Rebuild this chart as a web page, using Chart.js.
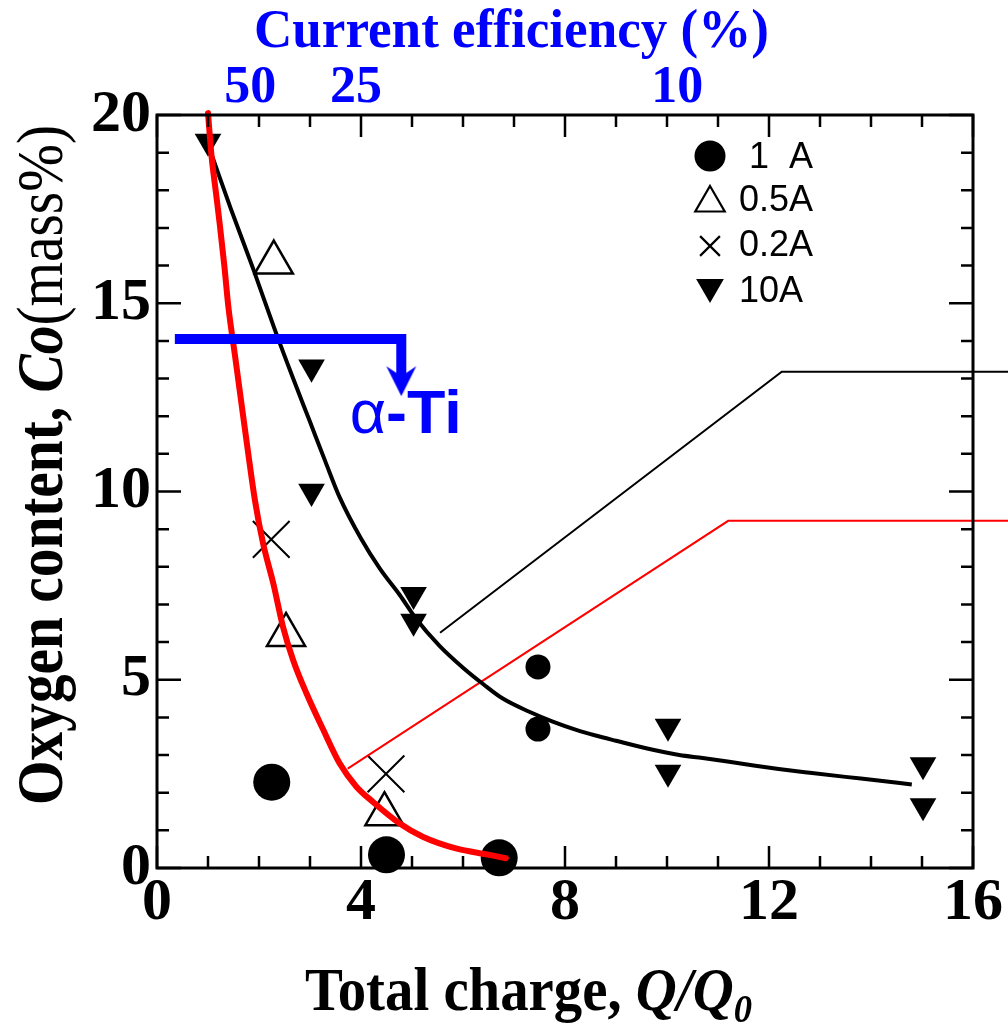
<!DOCTYPE html>
<html><head><meta charset="utf-8">
<script src="https://cdn.jsdelivr.net/npm/chart.js@4.4.1/dist/chart.umd.min.js"></script>
<style>html,body{margin:0;padding:0;background:#fff;overflow:hidden}#wrap{position:relative;width:1008px;height:1024px}</style>
</head><body><div id="wrap"><canvas id="c" width="1008" height="1024"></canvas></div>
<script>
// ---------- data ----------
const xTickValues = [0, 4, 8, 12, 16];
const yTickValues = [0, 5, 10, 15, 20];
const effLabels = ['50', '25', '10'];          // current efficiency (%) labels on top axis
const effPositions = [1.83, 3.9, 10.2];        // Q/Q0 where these labels sit

const s1A_x = [2.25, 4.5, 6.71, 7.47, 7.47];
const s1A_y = [2.28, 0.35, 0.27, 5.34, 3.69];

const s05A_x = [2.29, 2.53, 4.46];
const s05A_y = [16.08, 6.19, 1.43];

const s02A_x = [2.24, 4.49];
const s02A_y = [8.73, 2.5];

const s10A_x = [1.0, 3.03, 3.03, 5.03, 5.03, 10.02, 10.02, 15.02, 15.02];
const s10A_y = [19.3, 13.3, 10.0, 7.26, 6.55, 3.76, 2.54, 2.74, 1.65];

const blackFit_x = [1.04, 1.45, 1.89, 2.31, 2.67, 3.0, 3.3, 3.58, 4.0, 4.37, 4.76, 5.08, 5.54, 6.0, 6.4, 6.78, 7.3, 7.76, 8.22, 8.6, 9.0, 9.59, 10.24, 10.7, 11.22, 11.7, 12.19, 12.8, 13.5, 14.1, 14.8];
const blackFit_y = [19.07, 17.5, 15.9, 14.3, 13.0, 11.85, 10.8, 9.85, 8.75, 7.95, 7.25, 6.62, 5.9, 5.32, 4.88, 4.5, 4.15, 3.89, 3.67, 3.52, 3.38, 3.18, 3.0, 2.92, 2.82, 2.72, 2.63, 2.53, 2.42, 2.33, 2.22];

const redFit_x = [1.0, 1.07, 1.15, 1.23, 1.32, 1.4, 1.53, 1.62, 1.78, 1.92, 2.08, 2.28, 2.47, 2.67, 2.93, 3.26, 3.58, 3.91, 4.23, 4.76, 5.21, 5.86, 6.52, 6.84];
const redFit_y = [20.05, 18.9, 18.0, 17.1, 16.0, 14.9, 13.6, 12.7, 11.1, 9.77, 8.62, 7.56, 6.41, 5.52, 4.64, 3.67, 2.78, 2.16, 1.76, 1.18, 0.83, 0.52, 0.35, 0.26];

// leader lines and alpha-Ti marker
const blackLeader_x = [5.55, 12.25, 16.7];
const blackLeader_y = [6.25, 13.18, 13.18];
const redLeader_x = [3.74, 11.2, 16.7];
const redLeader_y = [2.64, 9.22, 9.22];
const alphaLine_x = [0.35, 4.79, 4.79];
const alphaLine_y = [14.05, 14.05, 13.0];
const alphaArrow_x = [4.79];
const alphaArrow_y = [12.93];
const alphaLabelPos = {x: 3.78, y: 11.55};

const legendLabels = [' 1  A', '0.5A', '0.2A', '10A'];

// ---------- helpers ----------
const SERIF = '"Liberation Serif","Times New Roman",serif';
const SANS = '"Liberation Sans",Arial,sans-serif';
const BLUE = '#0000ff';
const RED = '#ff0000';
function pts(xs, ys) { return xs.map((x, i) => ({x: x, y: ys[i]})); }

const arrowImg = document.createElement('canvas');
arrowImg.width = 32; arrowImg.height = 32;
(function () {
  const a = arrowImg.getContext('2d');
  a.fillStyle = BLUE;
  a.beginPath();
  a.moveTo(1, 1); a.lineTo(16, 11); a.lineTo(31, 1); a.lineTo(16, 31); a.closePath();
  a.fill();
})();

function drawRuns(ctx, runs, x, y, targetW, rot) {
  let total = 0;
  runs.forEach(r => { ctx.font = r.font; r.w = ctx.measureText(r.text).width; total += r.w; });
  const sx = targetW ? targetW / total : 1;
  ctx.save();
  ctx.translate(x, y);
  if (rot) ctx.rotate(rot);
  ctx.scale(sx, 1);
  ctx.textBaseline = 'alphabetic';
  ctx.textAlign = 'left';
  let cx = 0;
  runs.forEach(r => {
    ctx.font = r.font;
    ctx.fillStyle = r.color || '#000';
    ctx.fillText(r.text, cx, r.dy || 0);
    cx += r.w;
  });
  ctx.restore();
}

const decorPlugin = {
  id: 'decor',
  afterDatasetsDraw(chart) {
    const ctx = chart.ctx;
    const a = chart.chartArea;
    const xs = chart.scales.x, ys = chart.scales.y;
    ctx.save();
    // inward ticks
    ctx.strokeStyle = '#000';
    ctx.lineWidth = 2.5;
    ctx.beginPath();
    for (let v = 0; v <= 16; v++) {
      const px = xs.getPixelForValue(v);
      const len = (v % 4 === 0) ? 22 : 12;
      ctx.moveTo(px, a.bottom); ctx.lineTo(px, a.bottom - len);
      ctx.moveTo(px, a.top); ctx.lineTo(px, a.top + len);
    }
    for (let v = 0; v <= 20; v++) {
      const py = ys.getPixelForValue(v);
      const len = (v % 5 === 0) ? 24 : 12;
      ctx.moveTo(a.left, py); ctx.lineTo(a.left + len, py);
      ctx.moveTo(a.right, py); ctx.lineTo(a.right - len, py);
    }
    ctx.stroke();
    // frame
    ctx.lineWidth = 3;
    ctx.strokeRect(a.left, a.top, a.right - a.left, a.bottom - a.top);

    // legend
    const H = Chart.helpers;
    const lx = 710, tx = 739;
    const rows = [
      {y: 156, style: 'circle', r: 15.5, rot: 0, fill: '#000', bw: 0},
      {y: 203, style: 'triangle', r: 17, rot: 0, fill: 'rgba(0,0,0,0)', bw: 2.2},
      {y: 246, style: 'crossRot', r: 14, rot: 0, fill: 'rgba(0,0,0,0)', bw: 2.2},
      {y: 287, style: 'triangle', r: 16, rot: 180, fill: '#000', bw: 0}
    ];
    const textY = [157, 200, 245, 291];
    rows.forEach((rw, i) => {
      ctx.fillStyle = rw.fill; ctx.strokeStyle = '#000'; ctx.lineWidth = rw.bw || 1;
      H.drawPoint(ctx, {pointStyle: rw.style, radius: rw.r, rotation: rw.rot, borderWidth: rw.bw}, lx, rw.y);
      ctx.fillStyle = '#000';
      ctx.font = '36px ' + SANS;
      ctx.textBaseline = 'middle';
      ctx.textAlign = 'left';
      ctx.fillText(legendLabels[i], tx, textY[i] + 1);
    });

    // alpha-Ti label
    const ax = xs.getPixelForValue(alphaLabelPos.x), ay = ys.getPixelForValue(alphaLabelPos.y);
    drawRuns(ctx, [
      {text: 'α', font: '62px ' + SANS, color: BLUE},
      {text: '-Ti', font: 'bold 62px ' + SANS, color: BLUE}
    ], ax, ay, 112);

    // titles
    drawRuns(ctx, [
      {text: 'Total charge, ', font: 'bold 62px ' + SERIF},
      {text: 'Q/Q', font: 'italic bold 62px ' + SERIF},
      {text: '0', font: 'italic bold 40px ' + SERIF, dy: 12}
    ], 305, 1010, 447);
    drawRuns(ctx, [
      {text: 'Oxygen content, ', font: 'bold 66px ' + SERIF},
      {text: 'Co', font: 'italic bold 66px ' + SERIF},
      {text: '(mass%)', font: '66px ' + SERIF}
    ], 62, 805, 680, -Math.PI / 2);
    drawRuns(ctx, [
      {text: 'Current efficiency (%)', font: 'bold 54px ' + SERIF, color: BLUE}
    ], 254, 47, 515);
    ctx.restore();
  }
};

const baseTickFont = {family: SERIF, size: 60, weight: 'bold', lineHeight: 1};

new Chart(document.getElementById('c'), {
  type: 'scatter',
  data: {
    datasets: [
      {label: 'redFit', data: pts(redFit_x, redFit_y), showLine: true, borderColor: RED, borderWidth: 6,
       pointRadius: 0, cubicInterpolationMode: 'monotone', borderCapStyle: 'round', order: 1, clip: false},
      {label: 'blackFit', data: pts(blackFit_x, blackFit_y), showLine: true, borderColor: '#000', borderWidth: 4,
       pointRadius: 0, cubicInterpolationMode: 'monotone', order: 2},
      {label: 'blackLeader', data: pts(blackLeader_x, blackLeader_y), showLine: true, borderColor: '#000', borderWidth: 2,
       pointRadius: 0, tension: 0, clip: false, order: 3},
      {label: 'redLeader', data: pts(redLeader_x, redLeader_y), showLine: true, borderColor: RED, borderWidth: 2,
       pointRadius: 0, tension: 0, clip: false, order: 3},
      {label: 'alphaLine', data: pts(alphaLine_x, alphaLine_y), showLine: true, borderColor: BLUE, borderWidth: 10,
       pointRadius: 0, tension: 0, borderJoinStyle: 'miter', borderCapStyle: 'butt', order: 0},
      {label: 'alphaArrow', data: pts(alphaArrow_x, alphaArrow_y), pointStyle: arrowImg, pointRadius: 16, order: 0},
      {label: '1 A', data: pts(s1A_x, s1A_y), pointStyle: 'circle',
       pointRadius: ctx => ctx.dataIndex < 3 ? 18.5 : 12.5, backgroundColor: '#000', borderColor: '#000', borderWidth: 0,
       clip: false, order: 5},
      {label: '0.5A', data: pts(s05A_x, s05A_y), pointStyle: 'triangle', pointRadius: 22,
       backgroundColor: 'rgba(0,0,0,0)', borderColor: '#000', borderWidth: 2.5, clip: false, order: 5},
      {label: '0.2A', data: pts(s02A_x, s02A_y), pointStyle: 'crossRot', pointRadius: 26,
       borderColor: '#000', borderWidth: 2, clip: false, order: 5},
      {label: '10A', data: pts(s10A_x, s10A_y), pointStyle: 'triangle', rotation: 180, pointRadius: 15.4,
       backgroundColor: '#000', borderColor: '#000', borderWidth: 0, clip: false, order: 5}
    ]
  },
  options: {
    responsive: false,
    animation: false,
    events: [],
    devicePixelRatio: 1,
    layout: {padding: {left: 0, right: 34, top: 0, bottom: 0}},
    plugins: {legend: {display: false}, tooltip: {enabled: false}},
    scales: {
      x: {
        type: 'linear', position: 'bottom', min: 0, max: 16,
        afterBuildTicks: s => { s.ticks = xTickValues.map(v => ({value: v})); },
        ticks: {font: baseTickFont, color: '#000', padding: 5, maxRotation: 0, autoSkip: false},
        grid: {display: false, drawTicks: false}, border: {display: false},
        afterFit: s => { s.height = 156; }
      },
      x2: {
        type: 'linear', position: 'top', min: 0, max: 16,
        afterBuildTicks: s => { s.ticks = effPositions.map(v => ({value: v})); },
        ticks: {callback: (v, i) => effLabels[i], font: {family: SERIF, size: 52, weight: 'bold', lineHeight: 1},
                color: BLUE, padding: 0, maxRotation: 0, autoSkip: false},
        grid: {display: false, drawTicks: false}, border: {display: false},
        afterFit: s => { s.height = 115; }
      },
      y: {
        type: 'linear', position: 'left', min: 0, max: 20,
        afterBuildTicks: s => { s.ticks = yTickValues.map(v => ({value: v})); },
        ticks: {font: baseTickFont, color: '#000', padding: 6, autoSkip: false},
        grid: {display: false, drawTicks: false}, border: {display: false},
        afterFit: s => { s.width = 157; }
      }
    }
  },
  plugins: [decorPlugin]
});
</script>
</body></html>
